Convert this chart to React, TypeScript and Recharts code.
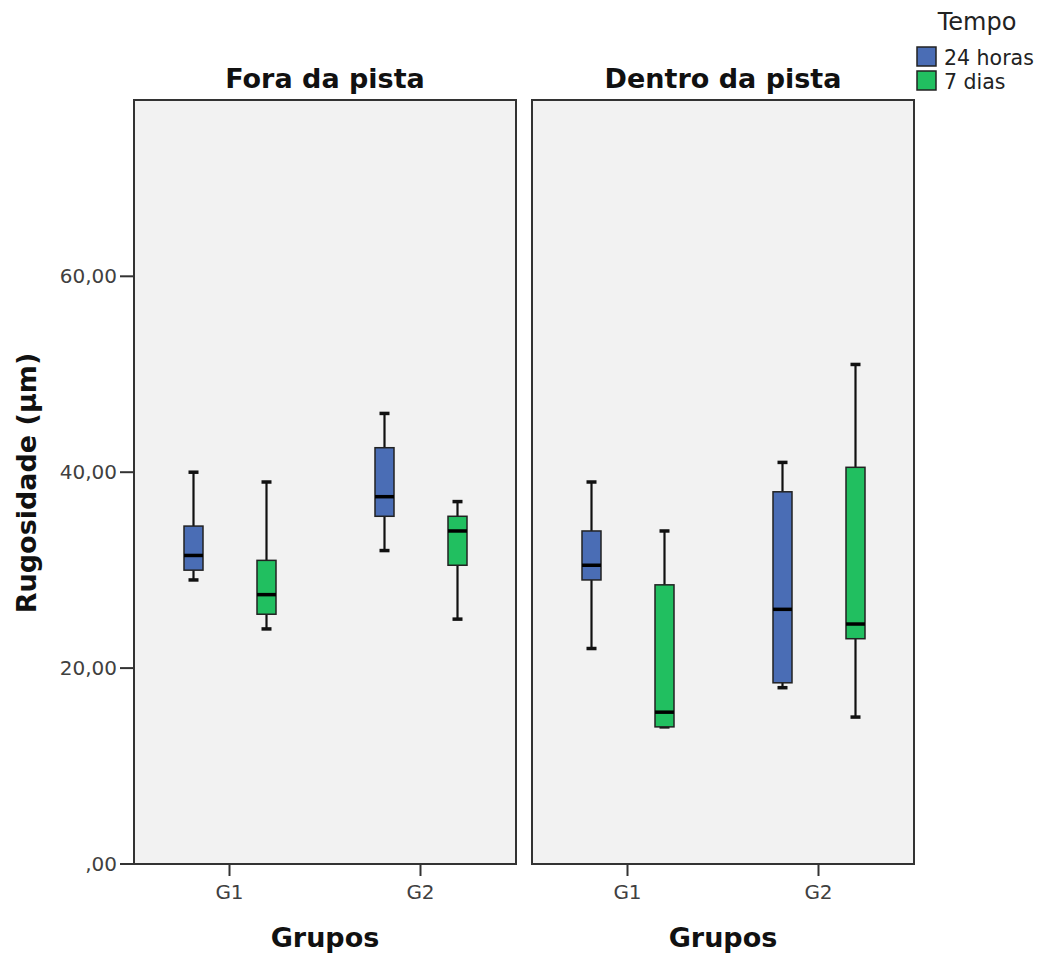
import { Bar, CartesianGrid, ComposedChart, ReferenceArea, XAxis, YAxis } from 'recharts';

// box stats per group: [min, q1, median, q3, max]
const groups = ['G1', 'G2'];
const foraHoras24 = [
  [29, 30, 31.5, 34.5, 40],
  [32, 35.5, 37.5, 42.5, 46],
];
const foraDias7 = [
  [24, 25.5, 27.5, 31, 39],
  [25, 30.5, 34, 35.5, 37],
];
const dentroHoras24 = [
  [22, 29, 30.5, 34, 39],
  [18, 18.5, 26, 38, 41],
];
const dentroDias7 = [
  [14, 14, 15.5, 28.5, 34],
  [15, 23, 24.5, 40.5, 51],
];
const yTicks = [0, 20, 40, 60];
const yMax = 78;

const BLUE = '#4a6db5';
const GREEN = '#21bf60';
const FONT = '"DejaVu Sans", sans-serif';

type Row = { group: string; h24: number[]; d7: number[] };

const buildRows = (h24: number[][], d7: number[][]): Row[] =>
  groups.map((group, i) => ({ group, h24: h24[i], d7: d7[i] }));

const foraRows = buildRows(foraHoras24, foraDias7);
const dentroRows = buildRows(dentroHoras24, dentroDias7);

const fmtTick = (v: number) => (v === 0 ? ',00' : v.toFixed(2).replace('.', ','));

function makeBox(key: 'h24' | 'd7', color: string) {
  return (props: any) => {
    const { x, y, width, height, payload } = props;
    const [min, q1, med, q3, max] = payload[key] as number[];
    const py = (v: number) => y + ((max - v) / (max - min)) * height;
    const cx = x + width / 2;
    const cap = 5;
    return (
      <g>
        <line x1={cx} x2={cx} y1={py(max)} y2={py(q3)} stroke="#111" strokeWidth={2.2} />
        <line x1={cx} x2={cx} y1={py(q1)} y2={py(min)} stroke="#111" strokeWidth={2.2} />
        <line x1={cx - cap} x2={cx + cap} y1={py(max)} y2={py(max)} stroke="#111" strokeWidth={3.5} />
        <line x1={cx - cap} x2={cx + cap} y1={py(min)} y2={py(min)} stroke="#111" strokeWidth={3.5} />
        <rect x={x} y={py(q3)} width={width} height={py(q1) - py(q3)} fill={color} stroke="#222" strokeWidth={1.5} />
        <line x1={x} x2={x + width} y1={py(med)} y2={py(med)} stroke="#000" strokeWidth={3.5} />
      </g>
    );
  };
}

function Panel({ rows, showY, width, margin }: { rows: Row[]; showY: boolean; width: number; margin: any }) {
  return (
    <ComposedChart
      width={width}
      height={959}
      data={rows}
      margin={margin}
      barSize={19}
      barGap={54}
      style={{ fontFamily: FONT }}
    >
      <CartesianGrid horizontal={false} vertical={false} fill="#f2f2f2" fillOpacity={1} />
      <XAxis
        dataKey="group"
        axisLine={false}
        tickLine={{ stroke: '#333', strokeWidth: 2 }}
        tickSize={12}
        tickMargin={9}
        height={40}
        tick={{ fill: '#404040', fontSize: 20 }}
      />
      <YAxis
        type="number"
        domain={[0, yMax]}
        allowDataOverflow
        ticks={yTicks}
        hide={!showY}
        width={showY ? 134 : 0}
        tickFormatter={fmtTick}
        axisLine={false}
        tickLine={{ stroke: '#333', strokeWidth: 2 }}
        tickSize={14}
        tickMargin={3}
        tick={{ fill: '#404040', fontSize: 20 }}
      />
      <Bar dataKey={(r: Row) => [r.h24[0], r.h24[4]]} fill={BLUE} shape={makeBox('h24', BLUE)} isAnimationActive={false} />
      <Bar dataKey={(r: Row) => [r.d7[0], r.d7[4]]} fill={GREEN} shape={makeBox('d7', GREEN)} isAnimationActive={false} />
      <ReferenceArea y1={0} y2={yMax} fill="none" stroke="#333" strokeWidth={2} ifOverflow="visible" />
    </ComposedChart>
  );
}

export default function App() {
  return (
    <div style={{ position: 'absolute', left: 0, top: 0, width: 1041, height: 959, background: '#fff' }}>
      <div style={{ position: 'absolute', left: 0, top: 0 }}>
        <Panel rows={foraRows} showY width={530} margin={{ top: 100, right: 14, bottom: 55, left: 0 }} />
      </div>
      <div style={{ position: 'absolute', left: 520, top: 0 }}>
        <Panel rows={dentroRows} showY={false} width={410} margin={{ top: 100, right: 16, bottom: 55, left: 12 }} />
      </div>
      <svg
        width={1041}
        height={959}
        style={{ position: 'absolute', left: 0, top: 0, pointerEvents: 'none', fontFamily: FONT }}
      >
        <text x={325} y={88} textAnchor="middle" fontSize={27} fontWeight="bold" fill="#111">Fora da pista</text>
        <text x={723} y={88} textAnchor="middle" fontSize={27} fontWeight="bold" fill="#111">Dentro da pista</text>
        <text x={325} y={947} textAnchor="middle" fontSize={27} fontWeight="bold" fill="#111">Grupos</text>
        <text x={723} y={947} textAnchor="middle" fontSize={27} fontWeight="bold" fill="#111">Grupos</text>
        <text x={36} y={483} transform="rotate(-90 36 483)" textAnchor="middle" fontSize={27} fontWeight="bold" fill="#111">
          Rugosidade (µm)
        </text>
        <text x={977} y={30} textAnchor="middle" fontSize={24} fill="#222">Tempo</text>
        <rect x={917} y={47} width={19} height={19} fill={BLUE} stroke="#222" strokeWidth={1.5} />
        <text x={944} y={65} fontSize={20.5} fill="#222">24 horas</text>
        <rect x={917} y={71} width={19} height={19} fill={GREEN} stroke="#222" strokeWidth={1.5} />
        <text x={944} y={89} fontSize={20.5} fill="#222">7 dias</text>
      </svg>
    </div>
  );
}
